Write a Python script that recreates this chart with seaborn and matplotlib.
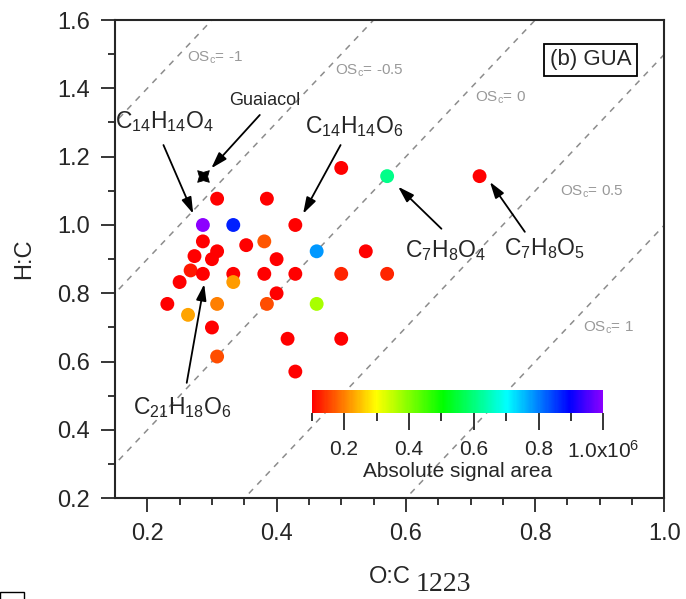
"""Van Krevelen style plot (H:C vs O:C) for GUA products coloured by signal area."""

import matplotlib
matplotlib.use("Agg")
import matplotlib.pyplot as plt
import numpy as np
import pandas as pd
import seaborn as sns
from matplotlib.colors import LinearSegmentedColormap, Normalize
from matplotlib.cm import ScalarMappable
from matplotlib.patches import Rectangle

# ---- data ----
oc_ratio = [0.500, 0.308, 0.385, 0.286, 0.333, 0.429, 0.286, 0.381, 0.308, 0.353,
            0.273, 0.300, 0.400, 0.462, 0.538, 0.267, 0.286, 0.333, 0.381, 0.429,
            0.500, 0.250, 0.333, 0.400, 0.308, 0.385, 0.462, 0.263, 0.300, 0.417,
            0.500, 0.308, 0.429, 0.571, 0.231, 0.571, 0.714]
hc_ratio = [1.167, 1.077, 1.077, 1.000, 1.000, 1.000, 0.952, 0.952, 0.923, 0.941,
            0.909, 0.900, 0.900, 0.923, 0.923, 0.867, 0.857, 0.857, 0.857, 0.857,
            0.857, 0.833, 0.833, 0.800, 0.769, 0.769, 0.769, 0.737, 0.700, 0.667,
            0.667, 0.615, 0.571, 0.857, 0.769, 1.143, 1.143]
# absolute signal area, in units of 1e6
signal_area = [0.08, 0.09, 0.08, 1.00, 0.87, 0.07, 0.08, 0.17, 0.08, 0.08,
               0.08, 0.09, 0.08, 0.78, 0.07, 0.12, 0.08, 0.08, 0.09, 0.08,
               0.13, 0.08, 0.22, 0.08, 0.20, 0.16, 0.37, 0.23, 0.08, 0.07,
               0.08, 0.16, 0.08, 0.13, 0.08, 0.61, 0.08]

guaiacol_oc = [2 / 7]
guaiacol_hc = [8 / 7]

osc_levels = [-1, -0.5, 0, 0.5, 1]
osc_label_pos = [(0.305, 1.489), (0.544, 1.451), (0.747, 1.372), (0.888, 1.098), (0.913, 0.700)]

cbar_ticks = [0.2, 0.4, 0.6, 0.8, 1.0]
cbar_ticklabels = ["0.2", "0.4", "0.6", "0.8", "1.0x10$^{6}$"]

df = pd.DataFrame({"OC": oc_ratio, "HC": hc_ratio, "area": signal_area})
gua = pd.DataFrame({"OC": guaiacol_oc, "HC": guaiacol_hc})

# ---- style ----
sns.set_style("ticks")
plt.rcParams["font.family"] = ["Liberation Sans", "DejaVu Sans"]
plt.rcParams["mathtext.default"] = "regular"
plt.rcParams["axes.linewidth"] = 1.5
plt.rcParams["xtick.major.width"] = 1.3
plt.rcParams["ytick.major.width"] = 1.3
plt.rcParams["xtick.minor.width"] = 1.3
plt.rcParams["ytick.minor.width"] = 1.3

rainbow = LinearSegmentedColormap.from_list(
    "igor_rainbow",
    [(0.0, (1, 0, 0)), (0.22, (1, 1, 0)), (0.45, (0, 1, 0)),
     (0.67, (0, 1, 1)), (0.885, (0, 0, 1)), (1.0, (0.55, 0, 1))],
)
norm = Normalize(vmin=0.1, vmax=1.0)

fig = plt.figure(figsize=(6.86, 5.99), dpi=100)
ax = fig.add_axes([0.1676, 0.1681, 0.801, 0.7985])

# OSc iso-lines: H:C = 2 O:C - OSc
xs = np.array([0.0, 1.2])
for osc, (lx, ly) in zip(osc_levels, osc_label_pos):
    ax.plot(xs, 2 * xs - osc, ls=(0, (4, 4)), color="#8c8c8c", lw=1.1, zorder=1)
    lab = f"{osc:g}"
    ax.text(lx, ly, "OS$_{c}$= " + lab, color="#999999", fontsize=11,
            ha="center", va="center", zorder=2)

sns.scatterplot(data=df, x="OC", y="HC", hue="area", palette=rainbow, hue_norm=norm,
                s=100, edgecolor="none", legend=False, ax=ax, zorder=3)
sns.scatterplot(data=gua, x="OC", y="HC", marker=(4, 1, 45), color="black",
                s=140, edgecolor="black", linewidth=0.6, legend=False, ax=ax, zorder=4)

ax.set_xlim(0.15, 1.0)
ax.set_ylim(0.2, 1.6)
ax.set_xticks([0.2, 0.4, 0.6, 0.8, 1.0])
ax.set_xticks(np.arange(0.25, 1.0, 0.05), minor=True)
ax.set_yticks([0.2, 0.4, 0.6, 0.8, 1.0, 1.2, 1.4, 1.6])
ax.set_yticks(np.arange(0.3, 1.6, 0.2), minor=True)
ax.xaxis.set_major_formatter(plt.FormatStrFormatter("%.1f"))
ax.yaxis.set_major_formatter(plt.FormatStrFormatter("%.1f"))
ax.tick_params(which="major", length=10, labelsize=17, pad=8, direction="out")
ax.tick_params(which="minor", length=5, direction="out")
ax.set_xlabel("O:C", fontsize=17, labelpad=15)
ax.set_ylabel("H:C", fontsize=17, labelpad=16)
for side in ("top", "right"):
    ax.spines[side].set_visible(True)

# annotations (text centre, arrow tail, arrow head)
labels = [
    ("Guaiacol", (0.382, 1.363), (0.374, 1.322), (0.299, 1.166), 13),
    ("C$_{14}$H$_{14}$O$_{4}$", (0.227, 1.304), (0.225, 1.234), (0.271, 1.033), 16.5),
    ("C$_{14}$H$_{14}$O$_{6}$", (0.520, 1.289), (0.499, 1.234), (0.441, 1.033), 16.5),
    ("C$_{7}$H$_{8}$O$_{4}$", (0.661, 0.925), (0.655, 0.989), (0.588, 1.112), 16.5),
    ("C$_{7}$H$_{8}$O$_{5}$", (0.815, 0.930), (0.784, 0.980), (0.730, 1.126), 16.5),
    ("C$_{21}$H$_{18}$O$_{6}$", (0.254, 0.466), (0.261, 0.538), (0.288, 0.827), 16.5),
]
for text, pos, tail, head, fs in labels:
    ax.text(pos[0], pos[1], text, fontsize=fs, ha="center", va="center", zorder=5)
    ax.annotate("", xy=head, xytext=tail,
                arrowprops=dict(arrowstyle="-|>,head_length=0.7,head_width=0.22",
                                color="black", lw=1.3, shrinkA=0, shrinkB=0,
                                mutation_scale=14), zorder=5)

ax.text(0.886, 1.483, "(b) GUA", fontsize=16, ha="center", va="center",
        bbox=dict(boxstyle="square,pad=0.25", fc="white", ec="black", lw=1.3), zorder=6)

# colour bar inside the plot
cax = fig.add_axes([0.4544, 0.310, 0.4251, 0.0389])
cb = fig.colorbar(ScalarMappable(norm=norm, cmap=rainbow), cax=cax, orientation="horizontal")
cb.outline.set_visible(False)
cb.set_ticks(cbar_ticks)
cb.set_ticklabels(cbar_ticklabels)
cax.set_xticks(np.arange(0.1, 1.0, 0.2), minor=True)
cax.tick_params(which="major", length=12, width=1.3, labelsize=15, pad=7)
cax.tick_params(which="minor", length=6, width=1.3)
cb.set_label("Absolute signal area", fontsize=15, labelpad=0)

# page artefacts
fig.text(0.646, 0.003, "1223", fontsize=20, family="Liberation Serif", ha="center", va="bottom")
fig.patches.append(Rectangle((0.0, -0.005), 0.035, 0.016, transform=fig.transFigure,
                             fill=False, ec="black", lw=1.0))

fig.savefig("out.png", dpi=100)
